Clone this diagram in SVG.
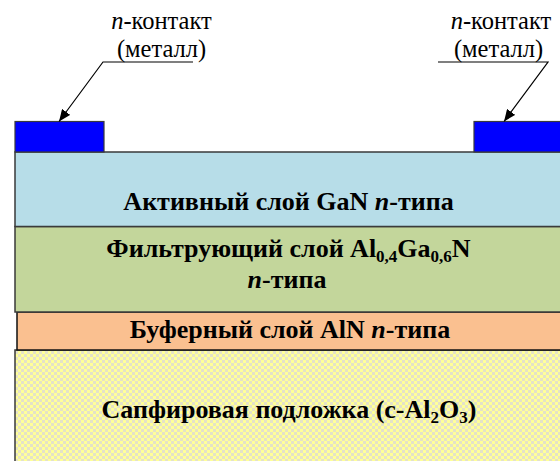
<svg xmlns="http://www.w3.org/2000/svg" width="560" height="461" viewBox="0 0 560 461">
  <defs>
    <pattern id="checker" x="0" y="0" width="6" height="6" patternUnits="userSpaceOnUse">
      <rect width="6" height="6" fill="#ffff99"/>
      <rect width="3" height="3" fill="#e4e2c8"/>
      <rect x="3" y="3" width="3" height="3" fill="#e4e2c8"/>
    </pattern>
    <marker id="arrow" viewBox="0 0 12 10" refX="12" refY="5" markerWidth="12" markerHeight="10" markerUnits="userSpaceOnUse" orient="auto">
      <path d="M0,0 L12,5 L0,10 Z" fill="#000"/>
    </marker>
  </defs>
  <style>
    .layer { stroke: #3a3a3a; stroke-width: 1.5; }
    .contact { fill: #0000ff; stroke: #3a3a3a; stroke-width: 1.2; }
    .label { font-family: 'Liberation Serif', 'Times New Roman', serif; font-weight: bold; font-size: 26px; fill: #000; text-anchor: middle; }
    .note { font-family: 'Liberation Serif', 'Times New Roman', serif; font-size: 24.5px; fill: #000; text-anchor: middle; }
    .leader { fill: none; stroke: #000; stroke-width: 1.2; }
    .sub { font-size: 17px; }
  </style>

  <rect width="560" height="461" fill="#ffffff"/>

  <!-- sapphire substrate -->
  <g id="substrate">
    <rect class="layer" x="15" y="350" width="560" height="130" fill="url(#checker)"/>
    <text class="label" x="289" y="418">Сапфировая подложка (c-Al<tspan class="sub" dy="5">2</tspan><tspan dy="-5">O</tspan><tspan class="sub" dy="5">3</tspan><tspan dy="-5">)</tspan></text>
  </g>

  <!-- AlN buffer -->
  <g id="buffer">
    <rect x="17" y="312" width="560" height="38" fill="#fac090" stroke="#111" stroke-width="1.5"/>
    <text class="label" x="290" y="338">Буферный слой AlN <tspan font-style="italic">n</tspan>-типа</text>
  </g>

  <!-- AlGaN filter layer -->
  <g id="filter">
    <rect class="layer" x="15" y="226.5" width="560" height="85.5" fill="#c3d69b"/>
    <text class="label" x="288.5" y="257">Фильтрующий слой Al<tspan class="sub" dy="5">0,4</tspan><tspan dy="-5">Ga</tspan><tspan class="sub" dy="5">0,6</tspan><tspan dy="-5">N</tspan></text>
    <text class="label" x="287" y="288"><tspan font-style="italic">n</tspan>-типа</text>
  </g>

  <!-- GaN active layer -->
  <g id="active">
    <rect class="layer" x="15" y="152" width="560" height="74.5" fill="#b7dde8"/>
    <text class="label" x="288.5" y="210">Активный слой GaN <tspan font-style="italic">n</tspan>-типа</text>
  </g>

  <!-- metal contacts -->
  <g id="contact-left">
    <rect class="contact" x="15" y="121.5" width="89" height="30.5"/>
  </g>
  <g id="contact-right">
    <rect class="contact" x="474" y="121.5" width="100" height="30.5"/>
  </g>

  <!-- contact captions -->
  <g id="caption-left">
    <text class="note" x="161.5" y="29"><tspan font-style="italic">n</tspan>-контакт</text>
    <text class="note" x="161.5" y="57">(металл)</text>
  </g>
  <g id="caption-right">
    <text class="note" x="501" y="29"><tspan font-style="italic">n</tspan>-контакт</text>
    <text class="note" x="498.5" y="57">(металл)</text>
  </g>

  <!-- leader lines -->
  <g id="connectors">
    <path class="leader" d="M193,62 L103,62 L59,121.5" marker-end="url(#arrow)"/>
    <path class="leader" d="M438,62 L548,62 L504,121.5" marker-end="url(#arrow)"/>
  </g>
</svg>
